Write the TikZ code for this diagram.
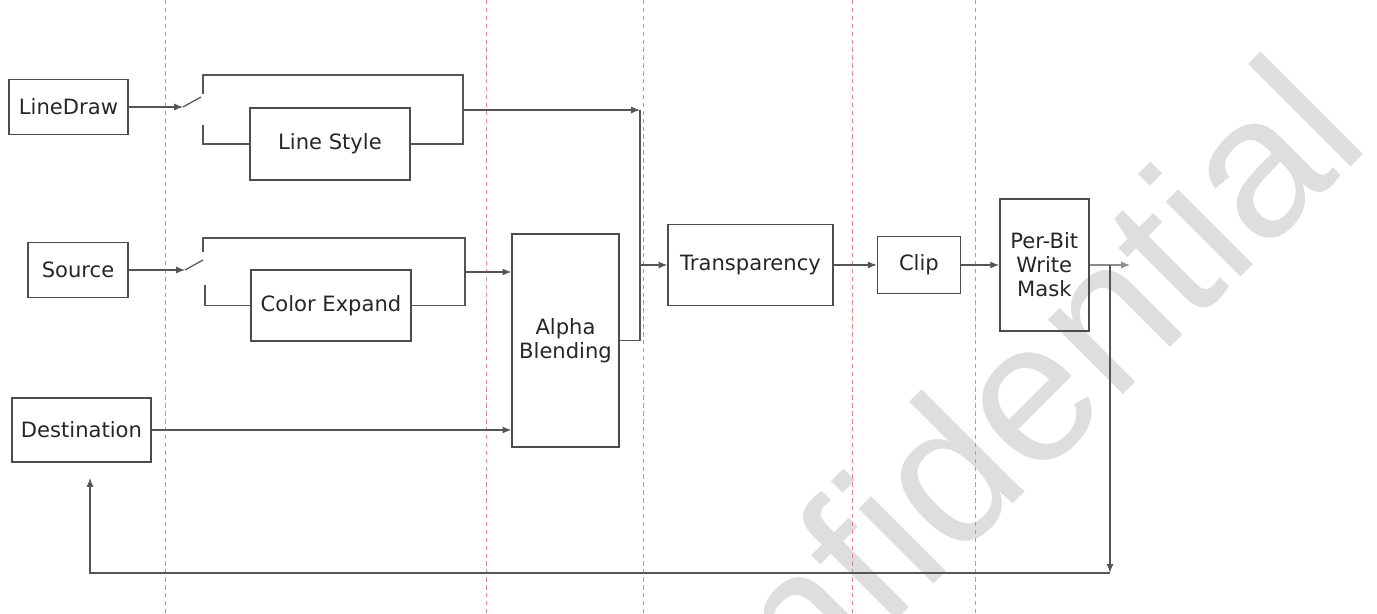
\documentclass[tikz,border=0pt]{standalone}
\usepackage{fontspec}
\setmainfont{DejaVu Sans}
\newfontfamily\wmfont{Liberation Sans}
\usetikzlibrary{positioning,arrows.meta}
\definecolor{guide}{RGB}{214,140,140}
\definecolor{wire}{RGB}{85,85,85}
\definecolor{mark}{RGB}{222,222,222}

\begin{document}
\begin{tikzpicture}[
  font=\fontsize{12}{13.6}\selectfont,
  box/.style={draw=black!70, line width=0.8pt, align=center, inner sep=2pt, text=black!85},
  wire/.style={draw=wire, line width=0.7pt},
  guide/.style={draw=guide, line width=0.5pt, dash pattern=on 2.5pt off 2pt},
  >={Latex[length=5pt,width=4pt]}, node distance=0.8cm]
  \useasboundingbox (0,0) rectangle (27.54,-12.28);
  \clip (0,0) rectangle (27.54,-12.28);
  % watermark
  \node[text=mark, font=\wmfont\fontsize{114}{114}\selectfont, rotate=45, anchor=base east] (wm) at (27.55,-2.80) {Confidential};
  % stage guides
  \foreach \gx in {3.30,9.72,12.86,17.04,19.50}
    \draw[guide] (\gx,0) -- (\gx,-12.28);
  % blocks
  \node[box, minimum width=2.38cm, minimum height=1.1cm] (ld) at (1.37,-2.14) {LineDraw};
  \node[box, minimum width=2cm, minimum height=1.1cm] (src) at (1.56,-5.40) {Source};
  \node[box, minimum width=2.78cm, minimum height=1.28cm] (dst) at (1.63,-8.60) {Destination};
  \node[box, minimum width=3.2cm, minimum height=1.44cm] (ls) at (6.60,-2.88) {Line Style};
  \node[box, minimum width=3.2cm, minimum height=1.42cm] (ce) at (6.62,-6.11) {Color Expand};
  \node[box, minimum width=2.14cm, minimum height=4.26cm] (ab) at (11.31,-6.81) {Alpha\\Blending};
  \node[box, minimum width=3.3cm, minimum height=1.62cm] (tr) at (15.01,-5.30) {Transparency};
  \node[box, right=0.86cm of tr, minimum width=1.66cm, minimum height=1.14cm] (cl) {Clip};
  \node[box, right=0.76cm of cl, minimum width=1.78cm, minimum height=2.64cm] (pb) {Per-Bit\\Write\\Mask};
  % line draw switch
  \coordinate (s1) at (3.66,-2.14);
  \coordinate (s1b) at (4.02,-1.94);
  \coordinate (f1t) at (4.06,-1.88);
  \coordinate (f1r) at (9.26,-1.50);
  \coordinate (f1l) at (4.06,-2.50);
  \coordinate (o1) at (9.26,-2.20);
  \coordinate (jn) at (12.80,-2.20);
  \draw[wire, ->] (ld) -- (s1);
  \draw[wire] (s1) -- (s1b);
  \draw[wire] (f1t) |- (f1r) |- (ls.east);
  \draw[wire] (f1l) |- (ls.west);
  \draw[wire, ->] (o1) -- (jn);
  \draw[wire] (jn) |- (ab.east);
  \draw[wire, ->] (jn |- tr.west) -- (tr.west);
  % source switch
  \coordinate (s2) at (3.70,-5.40);
  \coordinate (s2b) at (4.06,-5.20);
  \coordinate (f2t) at (4.06,-5.04);
  \coordinate (f2r) at (9.30,-4.76);
  \coordinate (f2l) at (4.10,-5.70);
  \coordinate (o2) at (9.30,-5.44);
  \draw[wire, ->] (src) -- (s2);
  \draw[wire] (s2) -- (s2b);
  \draw[wire] (f2t) |- (f2r) |- (ce.east);
  \draw[wire] (f2l) |- (ce.west);
  \draw[wire, ->] (o2) -- (o2 -| ab.west);
  \draw[wire, ->] (dst) -- (dst -| ab.west);
  % pipeline
  \draw[wire, ->] (tr) -- (cl);
  \draw[wire, ->] (cl) -- (pb);
  % write back
  \coordinate (out) at (22.60,-5.30);
  \coordinate (tap) at (22.20,-5.30);
  \coordinate (low) at (22.20,-11.46);
  \coordinate (ret) at (1.80,-9.56);
  \draw[wire, draw=black!45, ->] (pb) -- (out);
  \draw[wire, line width=1.2pt, ->] (tap) -- (low);
  \draw[wire, ->] (low) -| (ret);
\end{tikzpicture}
\end{document}
